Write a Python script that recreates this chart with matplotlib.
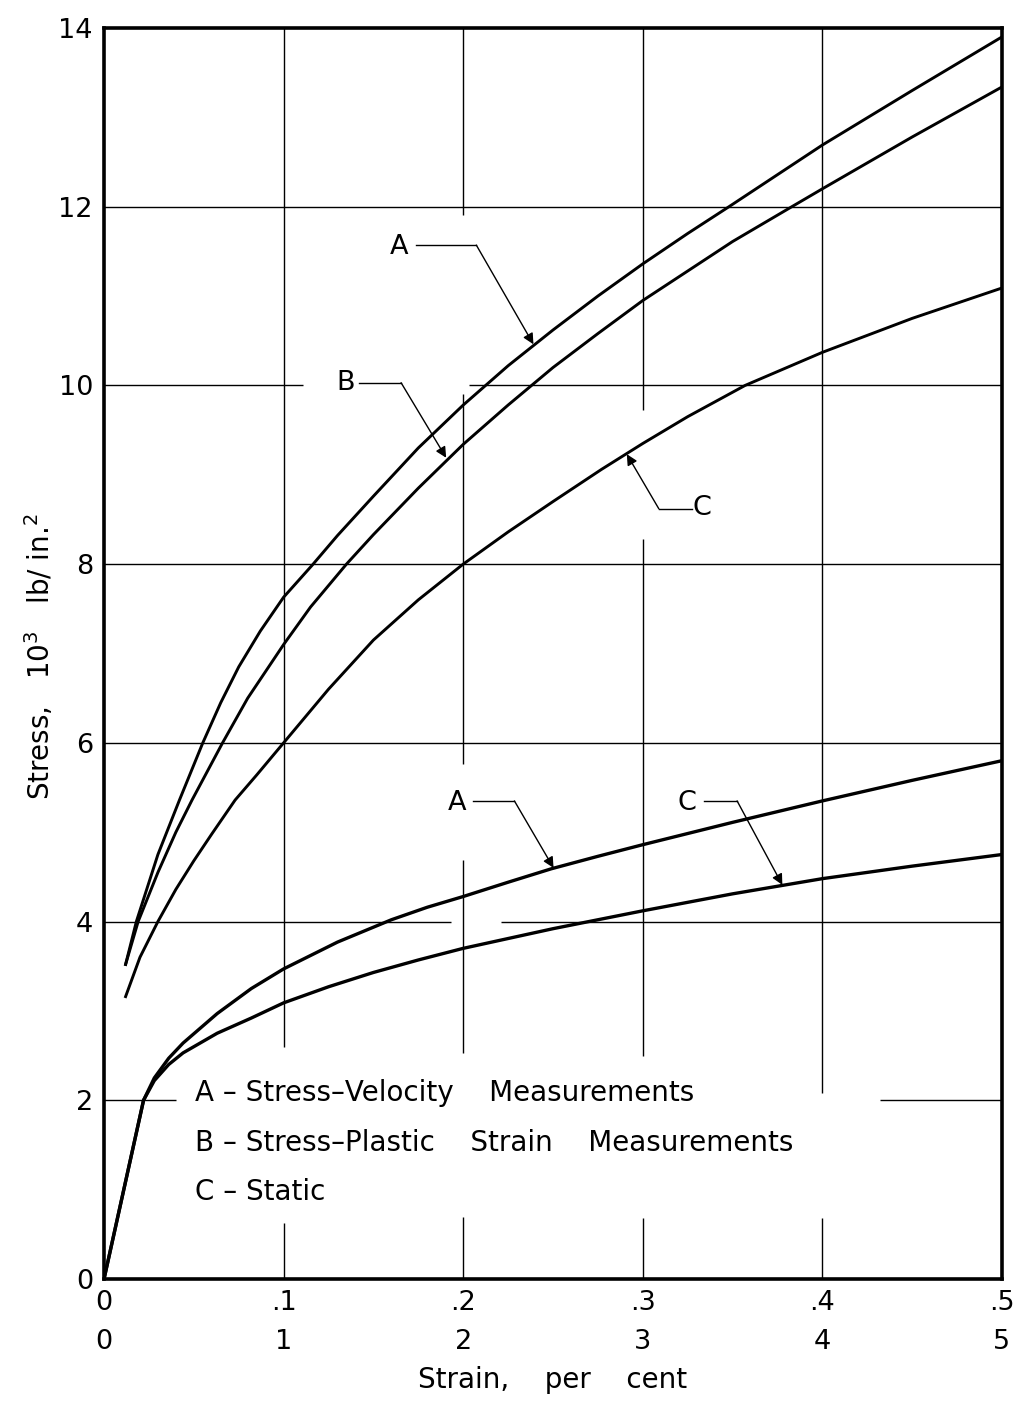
import numpy as np
import matplotlib.pyplot as plt

# upper curves: strain read on the lower scale (0-5 per cent)
a_up_strain = [0.12, 0.18, 0.30, 0.42, 0.55, 0.65, 0.75, 0.87, 1.0, 1.16, 1.3, 1.5, 1.75, 2.0,
               2.25, 2.5, 2.75, 3.0, 3.25, 3.48, 4.0, 4.5, 5.0]
a_up_stress = [3.52, 4.0, 4.75, 5.36, 6.0, 6.45, 6.85, 7.25, 7.63, 7.99, 8.32, 8.76, 9.3, 9.78,
               10.22, 10.62, 11.0, 11.36, 11.7, 12.0, 12.69, 13.3, 13.9]

b_up_strain = [0.12, 0.19, 0.30, 0.40, 0.49, 0.66, 0.8, 1.0, 1.15, 1.35, 1.5, 1.75, 2.0, 2.25,
               2.5, 2.75, 3.0, 3.25, 3.5, 3.83, 4.0, 4.5, 5.0]
b_up_stress = [3.52, 4.0, 4.55, 5.0, 5.36, 6.0, 6.5, 7.10, 7.52, 8.0, 8.33, 8.85, 9.34, 9.78,
               10.2, 10.58, 10.95, 11.28, 11.61, 12.0, 12.2, 12.78, 13.34]

c_up_strain = [0.12, 0.20, 0.30, 0.40, 0.50, 0.60, 0.73, 0.85, 1.0, 1.25, 1.5, 1.75, 2.0, 2.25,
               2.5, 2.77, 3.0, 3.25, 3.57, 4.0, 4.5, 5.0]
c_up_stress = [3.16, 3.6, 4.0, 4.36, 4.68, 4.98, 5.36, 5.64, 6.0, 6.6, 7.15, 7.6, 8.0, 8.36,
               8.7, 9.06, 9.35, 9.65, 10.0, 10.37, 10.75, 11.09]

# lower curves: strain read on the upper scale (0-0.5 per cent)
a_lo_strain = [0, 0.022, 0.028, 0.036, 0.044, 0.063, 0.082, 0.1, 0.13, 0.16, 0.18, 0.2,
               0.225, 0.249, 0.275, 0.3, 0.35, 0.4, 0.45, 0.5]
a_lo_stress = [0, 2.0, 2.25, 2.47, 2.64, 2.97, 3.25, 3.47, 3.77, 4.02, 4.16, 4.28,
               4.44, 4.59, 4.73, 4.86, 5.11, 5.35, 5.58, 5.80]

c_lo_strain = [0, 0.022, 0.028, 0.036, 0.044, 0.063, 0.082, 0.1, 0.125, 0.15, 0.175, 0.2,
               0.25, 0.3, 0.35, 0.4, 0.45, 0.5]
c_lo_stress = [0, 2.0, 2.22, 2.40, 2.53, 2.75, 2.92, 3.09, 3.27, 3.43, 3.57, 3.70,
               3.92, 4.12, 4.31, 4.48, 4.62, 4.75]

top_ticks = [0, 0.1, 0.2, 0.3, 0.4, 0.5]
top_labels = ['0', '.1', '.2', '.3', '.4', '.5']
bottom_ticks = [0, 1, 2, 3, 4, 5]
bottom_labels = ['0', '1', '2', '3', '4', '5']
stress_ticks = [0, 2, 4, 6, 8, 10, 12, 14]

legend_lines = ['A \u2013 Stress\u2013Velocity    Measurements',
                'B \u2013 Stress\u2013Plastic    Strain    Measurements',
                'C \u2013 Static']

fig = plt.figure(figsize=(10.24, 14.05), dpi=100)
ax = fig.add_axes([0.1016, 0.0897, 0.8769, 0.8904])
ax.set_xlim(0, 0.5)
ax.set_ylim(0, 14)
ax.set_xticks(top_ticks)
ax.set_xticklabels(top_labels)
ax.set_yticks(stress_ticks)
ax.tick_params(length=0, labelsize=19.5, pad=8)
for s in ax.spines.values():
    s.set_linewidth(2.6)

# grid lines, with the gaps left around the lettering
grid_kw = dict(color='black', lw=1.0, zorder=1)
hsegs = {2: [(0, 0.040), (0.432, 0.5)],
         4: [(0, 0.193), (0.221, 0.5)],
         6: [(0, 0.5)],
         8: [(0, 0.5)],
         10: [(0, 0.111), (0.203, 0.5)],
         12: [(0, 0.5)]}
vsegs = {0.1: [(0, 0.63), (2.60, 14)],
         0.2: [(0, 0.69), (2.53, 4.69), (5.76, 9.90), (11.91, 14)],
         0.3: [(0, 0.68), (2.49, 8.28), (9.73, 14)],
         0.4: [(0, 0.68), (2.08, 14)]}
for y, segs in hsegs.items():
    for x0, x1 in segs:
        ax.hlines(y, x0, x1, **grid_kw)
for x, segs in vsegs.items():
    for y0, y1 in segs:
        ax.vlines(x, y0, y1, **grid_kw)

ax.plot(a_lo_strain, a_lo_stress, color='black', lw=2.4, zorder=3)
ax.plot(c_lo_strain, c_lo_stress, color='black', lw=2.4, zorder=3)

ax2 = ax.twiny()
ax2.set_xlim(0, 5)
ax2.xaxis.set_ticks_position('bottom')
ax2.set_xticks(bottom_ticks)
ax2.set_xticklabels(bottom_labels)
ax2.tick_params(length=0, labelsize=19.5, pad=36)
for s in ax2.spines.values():
    s.set_visible(False)

ax2.plot(a_up_strain, a_up_stress, color='black', lw=2.1, zorder=3)
ax2.plot(b_up_strain, b_up_stress, color='black', lw=2.1, zorder=3)
ax2.plot(c_up_strain, c_up_stress, color='black', lw=2.1, zorder=3)

# curve labels with leaders
def leader(label, txt_xy, x0, x1, y, tip):
    ax.text(txt_xy[0], txt_xy[1], label, fontsize=19.5, ha='center', va='center')
    ax.plot([x0, x1], [y, y], color='black', lw=1.0)
    ax.annotate('', xy=tip, xytext=(x1, y),
                arrowprops=dict(arrowstyle='-|>', color='black', lw=1.0,
                                mutation_scale=16, shrinkA=0, shrinkB=0))

leader('A', (0.1642, 11.55), 0.1737, 0.2073, 11.57, (0.2391, 10.46))
leader('B', (0.1346, 10.03), 0.1419, 0.1654, 10.03, (0.1905, 9.19))
leader('C', (0.333, 8.63), 0.3274, 0.3089, 8.62, (0.2911, 9.23))
leader('A', (0.1966, 5.33), 0.2056, 0.2285, 5.35, (0.2503, 4.60))
leader('C', (0.3246, 5.33), 0.3341, 0.3525, 5.35, (0.3777, 4.41))

for i, line in enumerate(legend_lines):
    ax.text(0.0508, 2.08 - 0.555 * i, line, fontsize=20, ha='left', va='center')

fig.text(0.54, 1 - 1380 / 1405, 'Strain,    per    cent', fontsize=20, ha='center', va='center')
fig.text(0.039, 1 - 657 / 1405, r'Stress,   10$^3$   lb/ in.$^2$', fontsize=20,
         rotation=90, ha='center', va='center')

fig.savefig('out.png', dpi=100)
